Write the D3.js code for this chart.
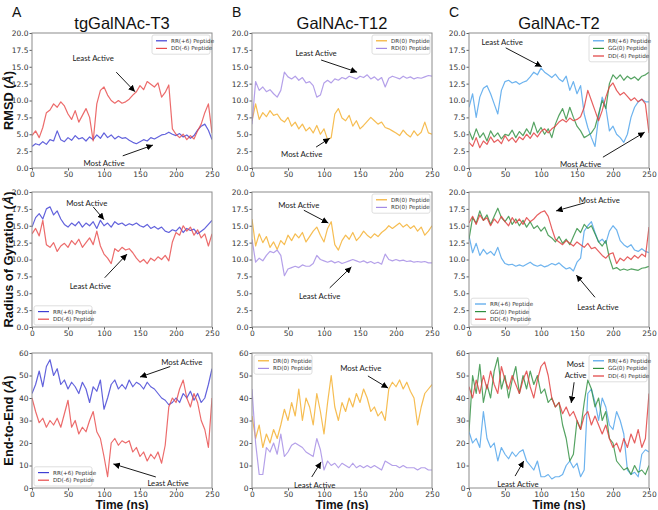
<!DOCTYPE html>
<html><head><meta charset="utf-8">
<script src="https://cdn.jsdelivr.net/npm/d3@7"></script>
<style>body{margin:0;background:#fff}svg{display:block}</style>
</head><body><svg id="c" width="658" height="510"></svg>
<script>
// ---------- data ----------
const time = d3.range(0, 251, 5);
const xTicks = [0, 50, 100, 150, 200, 250];
const yTicksSmall = [0, 2.5, 5, 7.5, 10, 12.5, 15, 17.5, 20];
const yTicksE2E = [0, 10, 20, 30, 40, 50, 60];
const columnTitles = ["tgGalNAc-T3", "GalNAc-T12", "GalNAc-T2"];
const columnLetters = ["A", "B", "C"];
const rowLabels = ["RMSD", "Radius of Gyration", "End-to-End"];
const xLabel = "Time (ns)";

// RMSD
const rmsdT3_RR = [3.2,3.6,3.4,3.9,3.5,4.2,4.0,5.5,4.2,3.9,4.5,4.1,4.8,4.3,4.5,4.0,4.6,4.2,4.9,4.4,5.2,4.5,4.9,4.3,4.7,4.4,4.5,4.1,3.8,3.6,3.9,4.2,4.0,4.5,4.3,4.6,4.9,5.0,5.3,5.0,4.8,5.1,4.6,4.9,4.4,4.8,5.6,6.2,6.5,5.6,4.2];
const rmsdT3_DD = [4.8,5.5,4.5,6.0,8.2,8.6,9.5,9.0,9.8,9.2,8.0,7.2,8.5,6.8,7.8,8.8,7.5,4.0,9.5,11.5,12.0,10.8,10.0,9.6,10.0,9.6,9.8,10.2,10.8,11.3,12.2,11.6,12.8,12.4,12.0,12.6,10.5,11.2,12.3,5.8,5.0,4.5,5.0,4.2,4.8,4.3,5.5,6.5,8.2,9.5,5.2];
const rmsdT12_DR = [7.0,9.5,7.2,8.2,7.6,8.5,7.8,8.0,7.2,6.8,7.5,6.2,6.8,5.8,6.5,5.5,6.0,5.2,6.3,5.0,5.8,4.2,4.5,8.0,8.8,7.4,7.0,7.8,6.2,7.0,5.8,6.3,6.9,7.5,7.0,6.5,6.8,6.0,5.8,5.5,5.2,4.8,5.6,5.0,4.6,5.5,4.8,5.3,6.8,5.2,5.0];
const rmsdT12_RD = [6.5,12.8,11.5,12.0,11.3,11.6,11.0,10.5,11.5,14.2,13.5,13.2,13.6,13.0,13.4,12.6,12.8,12.2,10.5,10.8,12.6,13.0,12.6,13.2,13.0,13.4,13.2,13.6,13.4,13.2,13.6,13.4,13.8,13.2,13.5,13.0,13.4,12.0,13.3,13.6,13.4,13.2,13.6,13.3,13.5,13.2,13.4,13.3,13.5,13.7,13.6];
const rmsdT2_RR = [9.0,11.0,7.5,10.5,11.8,12.2,11.0,9.5,8.0,11.5,12.8,13.0,12.6,12.8,12.4,12.7,12.9,13.5,14.2,13.8,14.8,14.2,13.8,13.4,13.9,13.2,12.8,13.6,11.5,12.8,11.0,12.2,8.0,6.0,4.5,3.2,7.5,10.5,9.0,5.5,6.2,5.0,4.5,3.8,5.0,7.5,9.0,9.8,10.2,9.8,9.8];
const rmsdT2_GG = [5.5,4.2,5.8,4.5,5.2,4.0,5.5,4.6,5.2,4.3,5.0,4.8,5.6,4.5,5.4,4.8,5.8,5.0,6.8,5.2,6.0,5.0,5.8,4.5,6.5,7.8,8.8,7.2,9.0,7.5,6.2,5.5,4.5,4.8,5.2,6.0,8.0,10.0,8.8,12.5,13.8,13.2,13.8,13.0,13.6,13.2,13.5,13.0,13.6,13.8,14.2];
const rmsdT2_DD = [3.8,3.2,4.5,3.0,4.0,3.5,4.6,3.8,4.2,3.6,4.8,4.0,4.5,3.8,4.6,4.2,5.0,4.4,5.2,4.6,5.4,5.8,5.2,5.8,6.2,6.8,7.2,6.8,7.4,7.0,7.2,7.6,9.0,11.5,10.0,8.5,7.0,8.5,10.5,12.0,12.6,11.5,10.8,11.2,10.6,10.0,10.4,9.8,10.2,9.5,5.2];

// Radius of gyration
const rgT3_RR = [14.8,16.2,16.8,16.0,17.5,17.8,16.6,17.2,16.0,15.2,14.8,15.4,15.0,15.6,14.8,15.4,15.0,15.6,14.6,15.8,15.0,15.4,14.8,15.6,15.2,15.4,15.0,15.3,15.1,15.4,15.0,14.8,15.2,14.6,14.9,14.5,14.8,14.2,14.0,14.4,14.2,14.8,14.0,14.6,14.3,14.5,13.8,14.2,14.6,15.2,15.8];
const rgT3_DD = [13.8,14.6,13.5,15.8,12.2,11.8,12.5,11.2,12.0,12.4,11.8,12.8,12.2,13.0,11.8,12.5,13.2,12.2,14.2,12.0,10.8,10.2,9.4,11.6,11.2,11.8,11.4,11.6,11.0,10.2,9.6,10.0,9.4,10.2,9.8,10.4,10.0,10.6,9.8,12.6,14.0,13.6,15.0,14.2,14.8,13.6,14.4,13.2,13.8,12.0,13.8];
const rgT12_DR = [16.0,12.0,13.8,12.5,13.4,11.8,12.6,11.5,12.8,12.2,13.6,12.8,13.8,13.2,14.0,12.6,13.4,14.2,14.8,13.6,12.6,14.6,15.6,12.2,11.4,12.8,13.6,13.0,14.0,12.8,13.4,14.2,13.6,13.2,13.8,13.4,14.0,14.4,15.0,14.6,15.0,15.4,14.8,15.2,14.6,15.0,14.2,14.8,13.6,14.2,15.0];
const rgT12_RD = [13.0,9.6,10.2,9.8,10.6,11.2,11.0,11.4,10.6,7.6,8.6,8.8,9.0,8.8,9.2,9.0,9.0,9.4,10.6,10.0,9.8,9.6,9.8,9.5,9.7,9.4,9.6,9.8,10.0,9.8,9.6,9.8,9.5,9.7,9.4,9.6,9.3,10.8,10.0,9.8,10.0,9.8,9.9,9.7,9.8,9.6,9.7,9.6,9.7,9.5,9.5];
const rgT2_RR = [13.5,11.0,12.4,10.6,11.5,10.8,11.2,10.6,11.8,10.2,9.4,9.2,9.3,9.0,9.2,9.0,9.3,9.6,9.2,9.0,9.2,8.9,9.1,9.4,9.2,9.5,9.0,8.6,8.8,8.3,9.6,10.2,14.2,15.0,15.6,14.0,12.6,13.0,12.4,14.2,15.0,14.4,12.8,12.2,11.8,12.2,11.4,11.2,11.6,11.2,11.0];
const rgT2_GG = [13.0,16.2,15.4,17.2,15.8,16.6,15.2,16.4,17.6,16.2,15.6,16.4,15.2,16.0,15.0,15.8,14.8,15.6,14.6,15.0,14.2,14.8,13.6,13.2,12.6,13.4,12.4,13.0,12.2,13.4,14.6,14.0,15.2,14.6,15.0,13.8,12.6,12.0,12.8,10.2,8.6,8.8,8.4,8.6,8.4,8.6,8.5,8.4,8.7,8.8,9.0];
const rgT2_DD = [15.4,16.4,15.2,16.6,15.8,16.2,15.0,16.0,15.4,16.4,15.6,15.0,16.2,15.4,16.0,15.2,16.2,15.6,16.0,16.6,17.0,17.2,16.4,14.6,13.0,12.6,12.2,12.8,12.4,12.0,12.6,12.2,11.8,12.4,11.6,11.8,11.2,10.6,10.2,10.8,11.0,9.4,10.2,9.8,10.4,10.0,10.6,10.2,10.8,10.4,14.8];

// End-to-end distance
const e2eT3_RR = [42,46,52,45,54,57,50,53,46,48,44,47,45,42,47,44,38,45,43,48,35,40,46,48,44,46,44,48,45,47,46,44,47,45,44,42,40,39,37,38,40,38,42,40,43,39,42,38,40,46,53];
const e2eT3_DD = [40,34,29,31,27,30,28,31,27,33,39,27,30,24,27,25,30,34,25,22,14,5,20,22,19,21,20,21,16,18,14,16,12,15,13,16,11,19,36,40,38,44,48,40,36,42,38,30,26,18,40];
const e2eT12_DR = [32,22,28,18,24,20,26,22,28,35,30,38,32,44,30,40,36,28,42,34,24,38,50,36,30,38,34,40,36,42,38,44,40,34,36,32,34,30,44,47,45,48,44,47,43,40,28,36,42,44,46];
const e2eT12_RD = [44,20,6,6,18,16,20,15,24,14,16,19,20,19,18,16,15,14,22,17,8,12,10,11,9,11,10,9,11,9,10,9,10,9,10,9,8,12,11,10,10,9,10,9,9,9,8,9,9,8,8];
const e2eT2_RR = [25,20,22,18,34,22,18,20,12,18,15,13,16,14,16,17,12,10,8,12,5,5,6,4,5,5,6,10,12,9,11,5,8,42,44,38,30,40,36,28,26,34,30,24,8,6,7,5,15,17,16];
const e2eT2_GG = [25,50,42,55,38,46,40,52,58,44,50,40,48,54,42,50,44,52,46,50,42,44,38,40,36,38,28,22,12,15,30,26,38,48,44,36,40,30,34,22,20,12,10,8,9,6,10,7,8,6,10];
const e2eT2_DD = [45,40,48,42,50,44,52,46,42,54,48,44,50,46,42,48,52,45,40,48,54,56,50,40,36,38,33,36,32,34,30,26,32,34,28,32,28,24,28,22,18,20,16,22,18,24,20,26,18,22,42];

// ---------- colours ----------
const C = {
  blueA: "#3f3fd4", redA: "#e84a4a",
  orange: "#f4ae2c", purple: "#a38be4",
  blueC: "#4da2ea", greenC: "#2f8f3f", redC: "#e03c3c"
};

const panels = [
  {col:0,row:0,series:[{n:"RR(+6) Peptide",v:rmsdT3_RR,c:C.blueA},{n:"DD(-6) Peptide",v:rmsdT3_DD,c:C.redA}],legend:"tr",
   ann:[{t:["Least Active"],x:85,y:16.2,a:[117,14.2,143,11.3]},{t:["Most Active"],x:100,y:0.7,a:[126,1.8,168,3.4]}]},
  {col:1,row:0,series:[{n:"DR(0) Peptide",v:rmsdT12_DR,c:C.orange},{n:"RD(0) Peptide",v:rmsdT12_RD,c:C.purple}],legend:"tr",
   ann:[{t:["Least Active"],x:89,y:17.0,a:[96,16,146,14.2]},{t:["Most Active"],x:69,y:2.0,a:[89,3.1,108,4.4]}]},
  {col:2,row:0,series:[{n:"RR(+6) Peptide",v:rmsdT2_RR,c:C.blueC},{n:"GG(0) Peptide",v:rmsdT2_GG,c:C.greenC},{n:"DD(-6) Peptide",v:rmsdT2_DD,c:C.redC}],legend:"tr",
   ann:[{t:["Least Active"],x:46,y:18.6,a:[51,17.8,101,15.0]},{t:["Most Active"],x:155,y:0.6,a:[186,1.6,244,5.3]}]},
  {col:0,row:1,series:[{n:"RR(+6) Peptide",v:rgT3_RR,c:C.blueA},{n:"DD(-6) Peptide",v:rgT3_DD,c:C.redA}],legend:"bl",
   ann:[{t:["Most Active"],x:76,y:18.3,a:[85,17.8,100,15.9]},{t:["Least Active"],x:81,y:6.0,a:[101,7.3,132,10.8]}]},
  {col:1,row:1,series:[{n:"DR(0) Peptide",v:rgT12_DR,c:C.orange},{n:"RD(0) Peptide",v:rgT12_RD,c:C.purple}],legend:"tr",
   ann:[{t:["Most Active"],x:65,y:18.0,a:[72,17.3,106,15.4]},{t:["Least Active"],x:94,y:4.5,a:[108,5.8,138,8.9]}]},
  {col:2,row:1,series:[{n:"RR(+6) Peptide",v:rgT2_RR,c:C.blueC},{n:"GG(0) Peptide",v:rgT2_GG,c:C.greenC},{n:"DD(-6) Peptide",v:rgT2_DD,c:C.redC}],legend:"bl",
   ann:[{t:["Most Active"],x:181,y:18.8,a:[161,18.4,121,17.2]},{t:["Least Active"],x:179,y:2.9,a:[175,4.4,149,7.7]}]},
  {col:0,row:2,series:[{n:"RR(+6) Peptide",v:e2eT3_RR,c:C.blueA},{n:"DD(-6) Peptide",v:e2eT3_DD,c:C.redA}],legend:"bl",
   ann:[{t:["Most Active"],x:208,y:55.8,a:[192,54,150,49.3]},{t:["Least Active"],x:189,y:2.2,a:[172,4.9,113,10.7]}]},
  {col:1,row:2,series:[{n:"DR(0) Peptide",v:e2eT12_DR,c:C.orange},{n:"RD(0) Peptide",v:e2eT12_RD,c:C.purple}],legend:"tl",
   ann:[{t:["Most Active"],x:151,y:53.2,a:[161,49.8,189,44.4]},{t:["Least Active"],x:87,y:1.2,a:[83,4.9,96,11.6]}]},
  {col:2,row:2,series:[{n:"RR(+6) Peptide",v:e2eT2_RR,c:C.blueC},{n:"GG(0) Peptide",v:e2eT2_GG,c:C.greenC},{n:"DD(-6) Peptide",v:e2eT2_DD,c:C.redC}],legend:"tr",
   ann:[{t:["Most","Active"],x:148,y:50.2,a:[146,47,142,37.8]},{t:["Least Active"],x:68,y:1.6,a:[64,5.3,76,12]}]}
];

// ---------- drawing ----------
const svg = d3.select("#c");
const colX = [32, 252, 469], rowY = [33, 192, 353], W = 180, H = 135;
const tickFont = "DejaVu Sans, sans-serif";

svg.append("defs").append("marker").attr("id","ah").attr("viewBox","0 0 10 10")
  .attr("refX",10).attr("refY",5).attr("markerWidth",6.5).attr("markerHeight",6.5)
  .attr("orient","auto").attr("markerUnits","userSpaceOnUse")
  .append("path").attr("d","M0,0L10,5L0,10Z").attr("fill","#000");

panels.forEach((p, pi) => {
  const x0 = colX[p.col], y0 = rowY[p.row];
  const x = d3.scaleLinear().domain([0, 250]).range([x0, x0 + W]);
  const y = d3.scaleLinear().domain([0, p.row === 2 ? 60 : 20]).range([y0 + H, y0]);
  const clipId = "clip" + pi;
  svg.append("clipPath").attr("id", clipId).append("rect")
    .attr("x", x0).attr("y", y0).attr("width", W).attr("height", H);
  const g = svg.append("g").attr("clip-path", `url(#${clipId})`);
  const line = d3.line().x((d, i) => x(time[i])).y(d => y(d));
  p.series.forEach(s => {
    g.append("path").datum(s.v).attr("d", line).attr("fill", "none")
      .attr("stroke", s.c).attr("stroke-width", 1.2).attr("stroke-opacity", 0.82)
      .attr("stroke-linejoin", "round");
  });

  const xa = d3.axisBottom(x).tickValues(xTicks).tickSize(2.5).tickPadding(1).tickFormat(d3.format("d"));
  const ya = d3.axisLeft(y).tickValues(p.row === 2 ? yTicksE2E : yTicksSmall).tickSize(2.5).tickPadding(1)
    .tickFormat(p.row === 2 ? d3.format("d") : d3.format(".1f"));
  [svg.append("g").attr("transform", `translate(0,${y0 + H})`).call(xa),
   svg.append("g").attr("transform", `translate(${x0},0)`).call(ya)].forEach(ax => {
    ax.select(".domain").remove();
    ax.selectAll("line").attr("stroke", "#333").attr("stroke-width", 0.8);
    ax.selectAll("text").attr("font-family", tickFont).attr("font-size", 7.5).attr("fill", "#333");
  });
  svg.append("rect").attr("x", x0).attr("y", y0).attr("width", W).attr("height", H)
    .attr("fill", "none").attr("stroke", "#8c8c8c").attr("stroke-width", 1);

  // legend
  const n = p.series.length, lw = 58, lh = 7.6 * n + 4;
  let lx = p.legend === "tr" ? x0 + W - lw - 2 : x0 + 2;
  let ly = p.legend === "bl" ? y0 + H - lh - 2 : y0 + 2;
  const lg = svg.append("g").attr("transform", `translate(${lx},${ly})`);
  lg.append("rect").attr("width", lw).attr("height", lh).attr("rx", 2)
    .attr("fill", "#fff").attr("fill-opacity", 0.85).attr("stroke", "#d6d6d6").attr("stroke-width", 0.8);
  p.series.forEach((s, i) => {
    const yy = 5.8 + i * 7.6;
    lg.append("line").attr("x1", 4).attr("x2", 15).attr("y1", yy).attr("y2", yy)
      .attr("stroke", s.c).attr("stroke-width", 1.2);
    lg.append("text").attr("x", 19).attr("y", yy + 2).text(s.n)
      .attr("font-family", tickFont).attr("font-size", 5.6).attr("fill", "#333");
  });

  // annotations
  p.ann.forEach(a => {
    svg.append("line").attr("x1", x(a.a[0])).attr("y1", y(a.a[1]))
      .attr("x2", x(a.a[2])).attr("y2", y(a.a[3]))
      .attr("stroke", "#000").attr("stroke-width", 0.9).attr("marker-end", "url(#ah)");
    const t = svg.append("text").attr("text-anchor", "middle")
      .attr("font-family", "Lato, sans-serif").attr("font-size", 7.8).attr("fill", "#1a1a1a");
    a.t.forEach((s, i) => t.append("tspan").attr("x", x(a.x)).attr("y", y(a.y) + 2.8 - (a.t.length - 1 - i) * 10.5).text(s));
  });
});

// column titles and letters
columnTitles.forEach((t, i) => {
  svg.append("text").attr("x", colX[i] + W / 2).attr("y", 29).attr("text-anchor", "middle")
    .attr("font-family", "Liberation Sans, Arial, sans-serif").attr("font-size", 16.5).attr("fill", "#111").text(t);
  svg.append("text").attr("x", [12, 232, 449][i]).attr("y", 17)
    .attr("font-family", "Liberation Sans, Arial, sans-serif").attr("font-size", 14).attr("fill", "#111").text(columnLetters[i]);
  svg.append("text").attr("x", colX[i] + W / 2).attr("y", 508.5).attr("text-anchor", "middle")
    .attr("font-family", "Liberation Sans, Arial, sans-serif").attr("font-weight", "bold").attr("font-size", 12)
    .attr("fill", "#111").text(xLabel);
});
rowLabels.forEach((t, i) => {
  const cy = rowY[i] + H / 2;
  const tx = svg.append("text").attr("transform", `translate(12.5,${cy}) rotate(-90)`).attr("text-anchor", "middle")
    .attr("font-family", "Liberation Sans, Arial, sans-serif").attr("font-weight", "bold").attr("font-size", 12.8)
    .attr("fill", "#111");
  tx.append("tspan").text(t + " (");
  tx.append("tspan").attr("font-style", "italic").text("Å");
  tx.append("tspan").text(")");
});
</script></body></html>
